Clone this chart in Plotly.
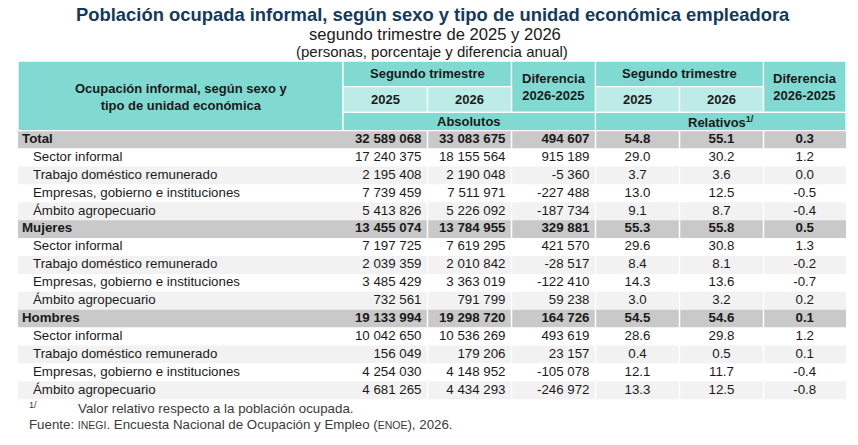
import plotly.graph_objects as go

# datos de la tabla
grupos = ["Total", "Mujeres", "Hombres"]
tipos = ["Sector informal", "Trabajo doméstico remunerado",
         "Empresas, gobierno e instituciones", "Ámbito agropecuario"]

abs_2025 = [32589068, 17240375, 2195408, 7739459, 5413826,
            13455074, 7197725, 2039359, 3485429, 732561,
            19133994, 10042650, 156049, 4254030, 4681265]
abs_2026 = [33083675, 18155564, 2190048, 7511971, 5226092,
            13784955, 7619295, 2010842, 3363019, 791799,
            19298720, 10536269, 179206, 4148952, 4434293]
dif_abs = [494607, 915189, -5360, -227488, -187734,
           329881, 421570, -28517, -122410, 59238,
           164726, 493619, 23157, -105078, -246972]
rel_2025 = [54.8, 29.0, 3.7, 13.0, 9.1,
            55.3, 29.6, 8.4, 14.3, 3.0,
            54.5, 28.6, 0.4, 12.1, 13.3]
rel_2026 = [55.1, 30.2, 3.6, 12.5, 8.7,
            55.8, 30.8, 8.1, 13.6, 3.2,
            54.6, 29.8, 0.5, 11.7, 12.5]
dif_rel = [0.3, 1.2, 0.0, -0.5, -0.4,
           0.5, 1.3, -0.2, -0.7, 0.2,
           0.1, 1.2, 0.1, -0.4, -0.8]

anios = ["2025", "2026"]

# estilo
W, H = 858, 445
TEAL = "#80dad2"
TEAL_CLARO = "#bdebe7"
GRIS = "#c9c9c9"
GRIS_CLARO = "#f2f2f2"
TXT = "#1a1a1a"
NOTA = "#3a3a3a"
FONT = "Liberation Sans, Arial, sans-serif"

bordes = [18, 343, 427.5, 511.5, 595.5, 679.5, 763.5, 846]
h_filas = [61, 86.7, 112.3, 130.7]
body_top = 130.7
row_h = 17.9

# filas: grupo + sus tipos
etiquetas, es_grupo = [], []
for g in grupos:
    etiquetas.append(g)
    es_grupo.append(True)
    for t in tipos:
        etiquetas.append(t)
        es_grupo.append(False)

n = len(etiquetas)
yc = [body_top + (i + 0.5) * row_h for i in range(n)]
body_bottom = body_top + n * row_h


def miles(v):
    return f"{v:,}".replace(",", " ")


def neg(s, b):
    return f"<b>{s}</b>" if b else s


shapes = []


def celda(x0, x1, y0, y1, color, borde=True):
    shapes.append(dict(type="rect", xref="x", yref="y", x0=x0, x1=x1, y0=y0, y1=y1,
                       fillcolor=color, layer="below",
                       line=dict(color="white", width=1.3 if borde else 0)))


# cuerpo
stripe = 0
for i in range(n):
    y0 = body_top + i * row_h
    if es_grupo[i]:
        c = GRIS
        stripe = 0
    else:
        c = "white" if stripe % 2 == 0 else GRIS_CLARO
        stripe += 1
    celda(bordes[0], bordes[-1], y0, y0 + row_h, c, borde=False)

for xb in bordes[2:-1]:
    shapes.append(dict(type="line", xref="x", yref="y", x0=xb, x1=xb,
                       y0=body_top, y1=body_bottom, line=dict(color="white", width=1.5)))

# encabezado
celda(bordes[0], bordes[1], h_filas[0], h_filas[3], TEAL)
for k in (0, 3):
    celda(bordes[1 + k], bordes[3 + k], h_filas[0], h_filas[1], TEAL)
    celda(bordes[3 + k], bordes[4 + k], h_filas[0], h_filas[2], TEAL)
    for j in range(2):
        celda(bordes[1 + k + j], bordes[2 + k + j], h_filas[1], h_filas[2], TEAL_CLARO)
    celda(bordes[1 + k], bordes[4 + k], h_filas[2], h_filas[3], TEAL)

fig = go.Figure()

txt_font = dict(family=FONT, size=13.3, color=TXT)

# etiquetas de fila
fig.add_trace(go.Scatter(
    x=[bordes[0] + (4 if g else 15) for g in es_grupo], y=yc, mode="text",
    text=[neg(e, g) for e, g in zip(etiquetas, es_grupo)],
    textposition="middle right", textfont=txt_font, hoverinfo="skip"))

# absolutos (alineados a la derecha)
for j, col in enumerate([abs_2025, abs_2026, dif_abs]):
    fig.add_trace(go.Scatter(
        x=[bordes[2 + j] - 6] * n, y=yc, mode="text",
        text=[neg(miles(v), g) for v, g in zip(col, es_grupo)],
        textposition="middle left", textfont=txt_font, hoverinfo="skip"))

# relativos (centrados)
for j, col in enumerate([rel_2025, rel_2026, dif_rel]):
    fig.add_trace(go.Scatter(
        x=[(bordes[4 + j] + bordes[5 + j]) / 2] * n, y=yc, mode="text",
        text=[neg(f"{v:.1f}", g) for v, g in zip(col, es_grupo)],
        textposition="middle center", textfont=txt_font, hoverinfo="skip"))

ann = []


def texto(x, y, s, size=13, bold=True, color=TXT, xanchor="center"):
    ann.append(dict(x=x, y=y, xref="x", yref="y", text=f"<b>{s}</b>" if bold else s,
                    showarrow=False, xanchor=xanchor, yanchor="middle",
                    font=dict(family=FONT, size=size, color=color)))


texto((bordes[0] + bordes[1]) / 2, 96.5,
      "Ocupación informal, según sexo y<br>tipo de unidad económica")
for k in (0, 3):
    texto((bordes[1 + k] + bordes[3 + k]) / 2, (h_filas[0] + h_filas[1]) / 2, "Segundo trimestre")
    texto((bordes[3 + k] + bordes[4 + k]) / 2, (h_filas[0] + h_filas[2]) / 2, "Diferencia<br>2026-2025")
    for j in range(2):
        texto((bordes[1 + k + j] + bordes[2 + k + j]) / 2, (h_filas[1] + h_filas[2]) / 2, anios[j])
texto((bordes[1] + bordes[4]) / 2, (h_filas[2] + h_filas[3]) / 2, "Absolutos")
texto((bordes[4] + bordes[7]) / 2, (h_filas[2] + h_filas[3]) / 2,
      "Relativos<sup>1/</sup>")

# titulos
texto(433, 14, "Población ocupada informal, según sexo y tipo de unidad económica empleadora",
      size=18.4, color="#133a5e")
texto(435, 34, "segundo trimestre de 2025 y 2026", size=16.6, bold=False)
texto(432, 51, "(personas, porcentaje y diferencia anual)", size=15, bold=False)

# notas
texto(27, 405, "1/", size=9, bold=False, color=NOTA, xanchor="left")
texto(76, 408.5, "Valor relativo respecto a la población ocupada.", size=13.3,
      bold=False, color=NOTA, xanchor="left")
texto(27, 424, "Fuente: <span style='font-size:10.5px'>INEGI</span>. Encuesta Nacional de "
      "Ocupación y Empleo (<span style='font-size:10.5px'>ENOE</span>), 2026.",
      size=13.3, bold=False, color=NOTA, xanchor="left")

fig.update_layout(
    width=W, height=H, autosize=False,
    margin=dict(l=0, r=0, t=0, b=0),
    paper_bgcolor="white", plot_bgcolor="white",
    showlegend=False, shapes=shapes, annotations=ann,
    xaxis=dict(range=[0, W], visible=False, fixedrange=True),
    yaxis=dict(range=[H, 0], visible=False, fixedrange=True),
)

fig.write_html("out.html", config={"displayModeBar": False},
               post_script="document.body.style.margin='0';")
